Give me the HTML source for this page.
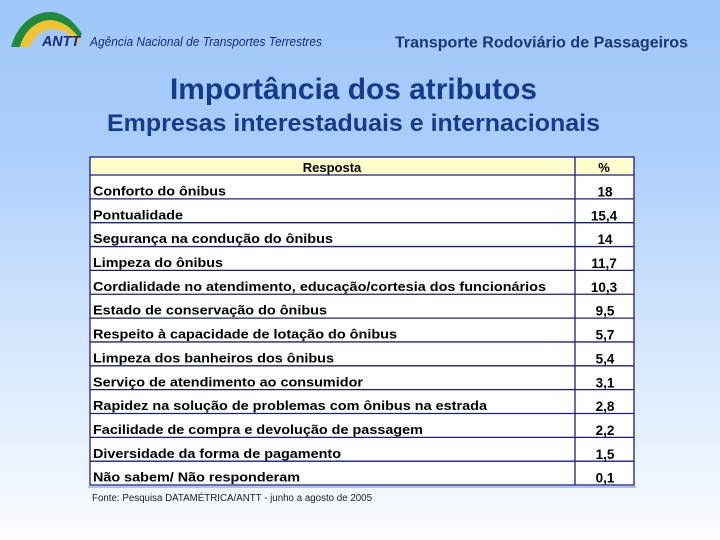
<!DOCTYPE html>
<html>
<head>
<meta charset="utf-8">
<style>
  html,body{margin:0;padding:0;}
  body{width:720px;height:540px;overflow:hidden;}
  svg{display:block;}
  text{font-family:"Liberation Sans",Arial,sans-serif;}
</style>
</head>
<body>
<svg width="720" height="540" viewBox="0 0 720 540" xmlns="http://www.w3.org/2000/svg">
  <defs>
    <linearGradient id="bg" x1="0" y1="0" x2="0" y2="1">
      <stop offset="0" stop-color="#a0c7fa"/>
      <stop offset="0.25" stop-color="#a9cdfb"/>
      <stop offset="0.6" stop-color="#d2e5fd"/>
      <stop offset="1" stop-color="#fbfdff"/>
    </linearGradient>
  </defs>
  <rect x="0" y="0" width="720" height="540" fill="url(#bg)"/>

  <!-- Logo -->
  <path d="M11,47 C18,22 36,11 52,12 C64,13 75,22 82,34 L79,38 C72,28 62,21 51,20 C37,20 24,31 20,47 Z" fill="#1e8a3c"/>
  <path d="M20,47 C24,31 37,20 51,20 C62,21 72,28 79,38 L80,45 C72,35 62,29 53,29 C42,29 33,37 30,47 Z" fill="#f2c230"/>
  <text x="42" y="46" font-size="15" font-weight="bold" font-style="italic" fill="#1b2a78" textLength="38" lengthAdjust="spacingAndGlyphs">ANTT</text>
  <text x="90" y="46" font-size="12.5" font-style="italic" fill="#1b2a78" textLength="232" lengthAdjust="spacingAndGlyphs">Agência Nacional de Transportes Terrestres</text>

  <text x="395" y="47.5" font-size="16" font-weight="bold" fill="#1a3578" textLength="293" lengthAdjust="spacingAndGlyphs">Transporte Rodoviário de Passageiros</text>

  <text x="170" y="99" font-size="29.5" font-weight="bold" fill="#163a8c" textLength="367" lengthAdjust="spacingAndGlyphs">Importância dos atributos</text>
  <text x="107" y="131" font-size="24.5" font-weight="bold" fill="#163a8c" textLength="493" lengthAdjust="spacingAndGlyphs">Empresas interestaduais e internacionais</text>

  <!-- Table -->
  <rect x="90" y="157" width="544" height="18" fill="#ffffcc"/>
  <rect x="90" y="175" width="544" height="310" fill="#ffffff"/>
  <g stroke="#1c1c88" stroke-width="1.3" fill="none">
    <rect x="90" y="157" width="544" height="328"/>
    <line x1="575" y1="157" x2="575" y2="485"/>
    <line x1="90" y1="175" x2="634" y2="175"/>
    <line x1="90" y1="198.85" x2="634" y2="198.85"/>
    <line x1="90" y1="222.7" x2="634" y2="222.7"/>
    <line x1="90" y1="246.55" x2="634" y2="246.55"/>
    <line x1="90" y1="270.4" x2="634" y2="270.4"/>
    <line x1="90" y1="294.25" x2="634" y2="294.25"/>
    <line x1="90" y1="318.1" x2="634" y2="318.1"/>
    <line x1="90" y1="341.95" x2="634" y2="341.95"/>
    <line x1="90" y1="365.8" x2="634" y2="365.8"/>
    <line x1="90" y1="389.65" x2="634" y2="389.65"/>
    <line x1="90" y1="413.5" x2="634" y2="413.5"/>
    <line x1="90" y1="437.35" x2="634" y2="437.35"/>
    <line x1="90" y1="461.2" x2="634" y2="461.2"/>
  </g>
  <line x1="88" y1="487" x2="636" y2="487" stroke="#6f8fe0" stroke-width="1"/>

  <g font-size="13" font-weight="bold" fill="#000">
    <text x="332" y="172" text-anchor="middle">Resposta</text>
    <text x="604" y="172" text-anchor="middle">%</text>

    <text x="93" y="195.5" textLength="133" lengthAdjust="spacingAndGlyphs">Conforto do ônibus</text>
    <text x="93" y="219.3" textLength="90" lengthAdjust="spacingAndGlyphs">Pontualidade</text>
    <text x="93" y="243.2" textLength="240" lengthAdjust="spacingAndGlyphs">Segurança na condução do ônibus</text>
    <text x="93" y="267" textLength="130" lengthAdjust="spacingAndGlyphs">Limpeza do ônibus</text>
    <text x="93" y="290.9" textLength="453" lengthAdjust="spacingAndGlyphs">Cordialidade no atendimento, educação/cortesia dos funcionários</text>
    <text x="93" y="314.7" textLength="234" lengthAdjust="spacingAndGlyphs">Estado de conservação do ônibus</text>
    <text x="93" y="338.6" textLength="304" lengthAdjust="spacingAndGlyphs">Respeito à capacidade de lotação do ônibus</text>
    <text x="93" y="362.4" textLength="241" lengthAdjust="spacingAndGlyphs">Limpeza dos banheiros dos ônibus</text>
    <text x="93" y="386.3" textLength="270" lengthAdjust="spacingAndGlyphs">Serviço de atendimento ao consumidor</text>
    <text x="93" y="410.1" textLength="394" lengthAdjust="spacingAndGlyphs">Rapidez na solução de problemas com ônibus na estrada</text>
    <text x="93" y="434" textLength="330" lengthAdjust="spacingAndGlyphs">Facilidade de compra e devolução de passagem</text>
    <text x="93" y="457.8" textLength="248" lengthAdjust="spacingAndGlyphs">Diversidade da forma de pagamento</text>
    <text x="93" y="481.7" textLength="207" lengthAdjust="spacingAndGlyphs">Não sabem/ Não responderam</text>
  </g>
  <g font-size="13.5" font-weight="bold" fill="#000" text-anchor="middle">
    <text x="605" y="196.5">18</text>
    <text x="604" y="220.3">15,4</text>
    <text x="605" y="244.2">14</text>
    <text x="604" y="268">11,7</text>
    <text x="604" y="291.9">10,3</text>
    <text x="605" y="315.7">9,5</text>
    <text x="605" y="339.6">5,7</text>
    <text x="605" y="363.4">5,4</text>
    <text x="605" y="387.3">3,1</text>
    <text x="605" y="411.1">2,8</text>
    <text x="605" y="435">2,2</text>
    <text x="605" y="458.8">1,5</text>
    <text x="605" y="482.7">0,1</text>
  </g>

  <text x="92" y="501" font-size="10" fill="#222" textLength="280" lengthAdjust="spacingAndGlyphs">Fonte: Pesquisa DATAMÉTRICA/ANTT - junho a agosto de 2005</text>
</svg>
</body>
</html>
